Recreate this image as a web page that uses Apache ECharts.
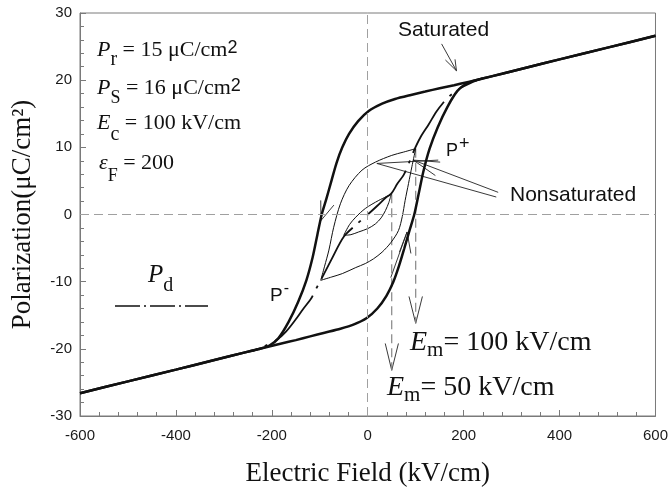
<!DOCTYPE html>
<html><head><meta charset="utf-8">
<script src="https://cdn.jsdelivr.net/npm/echarts@6/dist/echarts.min.js"></script>
<style>html,body{margin:0;padding:0;background:#fff}#c{width:671px;height:494px}</style>
</head><body><div id="c"></div>
<script>
// ---------- data ----------
const xTickValues = [-600, -400, -200, 0, 200, 400, 600];
const yTickValues = [-30, -20, -10, 0, 10, 20, 30];

// saturated loop, descending branch (E kV/cm, P uC/cm2)
const satUpper = [[600,26.6],[500,24.85],[400,23.1],[330,21.85],[280,20.95],[240,20.25],[210,19.75],[180,19.25],[150,18.8],[120,18.3],[90,17.8],[57,17.2],[30,16.5],[2,15.4],[-20,13.9],[-39,12.0],[-53,10.0],[-65,7.7],[-75,5.2],[-86,2.4],[-96,0.0],[-105,-3.0],[-115,-6.4],[-128,-9.8],[-145,-13.0],[-165,-16.0],[-186,-18.4],[-205,-19.5],[-228,-20.05],[-260,-20.6],[-330,-21.85],[-400,-23.1],[-500,-24.85],[-600,-26.6]];
// saturated loop, ascending branch
const satLower = [[-600,-26.6],[-500,-24.85],[-400,-23.1],[-330,-21.85],[-280,-20.95],[-240,-20.25],[-210,-19.75],[-180,-19.2],[-150,-18.7],[-120,-18.15],[-90,-17.6],[-57,-17.0],[-30,-16.4],[-2,-15.4],[20,-14.0],[39,-12.1],[53,-10.1],[65,-7.7],[76,-5.1],[87,-2.4],[97,0.0],[106,3.0],[116,6.4],[129,9.8],[146,13.0],[166,16.0],[187,18.4],[206,19.5],[228,20.05],[260,20.6],[330,21.85],[400,23.1],[500,24.85],[600,26.6]];
// nonsaturated loop Em = 100 kV/cm
const loop100Upper = [[100,9.8],[75,9.3],[50,8.8],[16,7.8],[-12,6.6],[-39,4.3],[-57,1.6],[-71,-1.9],[-81,-5.3],[-90,-7.7],[-98,-9.8]];
const loop100Lower = [[-98,-9.8],[-75,-9.3],[-53,-8.8],[-25,-7.9],[-5,-7.3],[12,-6.6],[30,-5.6],[48,-4.2],[64,-2.4],[72,-0.3],[78,2.1],[85,4.6],[92,7.1],[100,9.8]];
// nonsaturated loop Em = 50 kV/cm
const loop50Upper = [[49,3.0],[23,2.1],[-5,0.9],[-25,-0.4],[-38,-1.5],[-50,-3.1]];
const loop50Lower = [[-50,-3.1],[-35,-3.0],[-19,-2.6],[0,-2.1],[16,-1.4],[28,-0.5],[37,0.6],[44,1.8],[49,3.0]];
// Pd (dash-dot) curve
const pdCurve = [[-240,-20.3],[-215,-19.6],[-190,-18.7],[-170,-17.4],[-150,-15.6],[-135,-14.1],[-118,-12.5],[-108,-11.1],[-98,-9.8],[-75,-6.6],[-50,-3.3],[-24,-1.5],[0,0],[20,1.3],[39,2.6],[49,3.1],[62,4.6],[75,5.9],[85,7.5],[95,9.3],[110,11.5],[127,13.4],[143,15.3],[157,16.6],[170,17.6],[193,18.8],[215,19.6],[240,20.3]];
// Em markers (vertical dashed lines)
const emValues = [50, 100];
const emTop = [3.0, 9.8];
const emBottom = [-23.2, -16.2];
// annotation leader lines and open arrow heads (data coordinates)
const leaderSegments = [
  [[154,25.4],[185,21.4]],
  [[162,23.0],[185,21.4],[182,23.1]],
  [[268,2.6],[19,7.6],[147,8.1]],
  [[272,3.3],[95,8.1],[151,7.8]],
  [[95,8.1],[141,5.8]]
];
const arrowSegments = [
  [[-98,2.1],[-97.6,-0.9],[-70.6,1.4]],
  [[48,-9.4],[82,-2.6]],
  [[66,-5.6],[82,-2.6],[90,-5.8]],
  [[36.5,-19.2],[50,-23.2],[64,-19.2]],
  [[86,-12.2],[100,-16.2],[114,-12.2]]
];

// ---------- drawing ----------
const SERIF = '"Liberation Serif","Times New Roman",serif';
const SANS = '"Liberation Sans",Arial,sans-serif';
const INK = '#111';
const cv = document.createElement('canvas').getContext('2d');

function run(x, base, parts) {
  const out = []; let cx = x;
  for (const p of parts) {
    const font = (p.i ? 'italic ' : '') + p.s + 'px ' + p.f;
    cv.font = font;
    const w = cv.measureText(p.t).width;
    out.push({type:'text', silent:true, x: cx + (p.dx||0), y: base + (p.dy||0) - 0.32*p.s,
      style:{text:p.t, font:font, fill:INK, align:'left', verticalAlign:'middle'}});
    cx += w + (p.dx||0);
  }
  return out;
}

const graphics = [].concat(
  run(97, 57, [{t:'P',s:22,f:SERIF,i:true},{t:'r',s:20,f:SERIF,dy:9},{t:' = 15 \u03BCC/cm',s:22,f:SERIF},{t:'2',s:18,f:SANS,dy:-3}]),
  run(97, 95, [{t:'P',s:22,f:SERIF,i:true},{t:'S',s:18,f:SERIF,dy:9},{t:' = 16 \u03BCC/cm',s:22,f:SERIF},{t:'2',s:18,f:SANS,dy:-3}]),
  run(97, 130, [{t:'E',s:22,f:SERIF,i:true},{t:'c',s:20,f:SERIF,dy:11},{t:' = 100 kV/cm',s:22,f:SERIF}]),
  run(99, 170, [{t:'\u03B5',s:22,f:SERIF,i:true},{t:'F',s:18,f:SERIF,dy:12},{t:' = 200',s:22,f:SERIF}]),
  run(148, 283, [{t:'P',s:25,f:SERIF,i:true},{t:'d',s:20,f:SERIF,dy:9}]),
  run(410, 352, [{t:'E',s:28,f:SERIF,i:true},{t:'m',s:21,f:SERIF,dy:5},{t:'= 100 kV/cm',s:28,f:SERIF}]),
  run(387, 397, [{t:'E',s:28,f:SERIF,i:true},{t:'m',s:21,f:SERIF,dy:5},{t:'= 50 kV/cm',s:28,f:SERIF}]),
  run(446, 157, [{t:'P',s:18,f:SANS},{t:'+',s:18,f:SANS,dy:-7,dx:1}]),
  run(270, 302, [{t:'P',s:19,f:SANS},{t:'-',s:16,f:SANS,dy:-8,dx:1}]),
  run(398, 37, [{t:'Saturated',s:21,f:SANS}]),
  run(510, 202, [{t:'Nonsaturated',s:21,f:SANS}]),
  [{type:'line', silent:true, shape:{x1:115,y1:306,x2:208,y2:306}, style:{stroke:INK, lineWidth:1.3, lineDash:[25,4,2,4]}}]
);

const base = {type:'line', symbol:'none', showSymbol:false, silent:true, animation:false, clip:true};
const thin = {color:INK, width:1};
const series = [];
emValues.forEach((e,i) => series.push(Object.assign({}, base, {
  data:[[e, emTop[i]],[e, emBottom[i]]], lineStyle:{type:[9,5], color:'#858585', width:1.2}})));
series.push(Object.assign({}, base, {data:loop50Upper, smooth:0.3, lineStyle:thin,
  markLine:{silent:true, symbol:'none', animation:false, label:{show:false},
    lineStyle:{type:[9,5], color:'#a0a0a0', width:1}, data:[{xAxis:0},{yAxis:0}]}}));
series.push(Object.assign({}, base, {data:loop50Lower, smooth:0.3, lineStyle:thin}));
series.push(Object.assign({}, base, {data:loop100Upper, smooth:0.3, lineStyle:thin}));
series.push(Object.assign({}, base, {data:loop100Lower, smooth:0.3, lineStyle:thin}));
series.push(Object.assign({}, base, {data:pdCurve, smooth:0.3,
  lineStyle:{color:INK, width:1.8, type:[60,8,3,8], dashOffset:55, cap:'butt'}}));
series.push(Object.assign({}, base, {data:satUpper, smooth:0.25, lineStyle:{color:INK, width:2.5}}));
series.push(Object.assign({}, base, {data:satLower, smooth:0.25, lineStyle:{color:INK, width:2.5}}));
series.push({type:'lines', coordinateSystem:'cartesian2d', polyline:true, silent:true, animation:false,
  lineStyle:{color:'#222', width:0.9, opacity:1, curveness:0},
  data: leaderSegments.concat(arrowSegments).map(s => ({coords:s}))});

const axisGrey = '#7a7a7a';
const option = {
  animation:false,
  backgroundColor:'#fff',
  grid:{left:80, right:13, top:13, bottom:78, show:true, borderColor:axisGrey, borderWidth:1, containLabel:false},
  xAxis:{type:'value', min:xTickValues[0], max:xTickValues[xTickValues.length-1], interval:xTickValues[1]-xTickValues[0],
    name:'Electric Field (kV/cm)', nameLocation:'middle', nameGap:44,
    nameTextStyle:{fontFamily:SERIF, fontSize:27, color:INK},
    axisLine:{show:true, onZero:false, lineStyle:{color:axisGrey, width:1}},
    axisTick:{show:true, inside:true, length:6, lineStyle:{color:axisGrey}},
    minorTick:{show:true, splitNumber:5, length:4, lineStyle:{color:axisGrey}},
    splitLine:{show:false},
    axisLabel:{fontFamily:SANS, fontSize:15, color:'#1a1a1a', margin:12}},
  yAxis:{type:'value', min:yTickValues[0], max:yTickValues[yTickValues.length-1], interval:yTickValues[1]-yTickValues[0],
    name:'Polarization(\u03BCC/cm\u00B2)', nameLocation:'middle', nameGap:44,
    nameTextStyle:{fontFamily:SERIF, fontSize:27, color:INK},
    axisLine:{show:true, onZero:false, lineStyle:{color:axisGrey, width:1}},
    axisTick:{show:true, inside:true, length:6, lineStyle:{color:axisGrey}},
    minorTick:{show:true, splitNumber:5, length:4, lineStyle:{color:axisGrey}},
    splitLine:{show:false},
    axisLabel:{fontFamily:SANS, fontSize:15, color:'#1a1a1a', margin:8}},
  series: series,
  graphic: graphics
};
const chart = echarts.init(document.getElementById('c'));
chart.setOption(option);
</script>
</body></html>
